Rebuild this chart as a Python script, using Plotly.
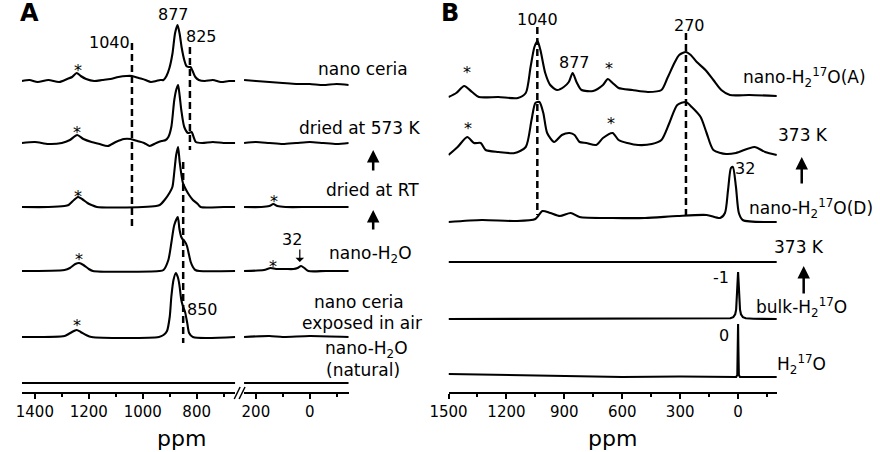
import plotly.graph_objects as go

W, H = 880, 452
FONT = "DejaVu Sans"

# ---------------- Panel A data: (ppm, intensity) ----------------
a_ceria_left = [(1448, 0), (1420, 1), (1390, -1), (1350, 1), (1310, -1), (1280, 2), (1262, 4), (1245, 8),
                (1230, 5), (1210, 2), (1180, 0), (1150, 1), (1120, 2), (1090, 4), (1060, 5), (1040, 5),
                (1015, 3), (990, 1), (970, -1), (950, 0), (935, 1), (923, 1), (912, 5), (901, 13),
                (890, 27), (880, 48), (871, 56), (863, 47), (856, 34), (846, 21), (838, 15), (830, 14),
                (823, 14), (815, 10), (805, 4), (792, 1), (770, 0), (740, 1), (710, -1), (680, 0), (657, 0)]
a_ceria_right = [(244, 1), (200, 0), (150, -1), (100, -2), (50, -3), (0, -3), (-50, -4), (-100, -3), (-145, -4)]

a_573_left = [(1448, 0), (1400, 1), (1350, -1), (1300, 0), (1270, 3), (1243, 8), (1220, 4), (1190, 1),
              (1160, -1), (1130, -3), (1100, 1), (1070, 4), (1045, 4), (1020, 2), (995, 0), (974, -3),
              (950, 0), (930, 2), (915, 3), (905, 6), (894, 16), (883, 43), (875, 54), (869, 58),
              (863, 47), (857, 33), (846, 16), (832, 10), (819, 11), (810, 5), (803, 1), (780, 0),
              (740, 1), (700, 0), (657, 0)]
a_573_right = [(244, 0), (200, 1), (150, 0), (100, -1), (50, 0), (0, 1), (-50, 0), (-100, -1), (-145, 0)]

a_rt_left = [(1448, 0), (1350, 0), (1290, 1), (1275, 2), (1255, 7), (1240, 10), (1225, 8), (1205, 4),
             (1190, 2), (1170, 0), (1000, 0), (950, 1), (937, 2), (919, 7), (901, 14), (890, 20),
             (883, 35), (876, 52), (869, 60), (863, 45), (851, 24), (839, 17), (828, 12), (814, 7),
             (796, 3), (785, 0), (700, 0), (657, 0)]
a_rt_right = [(244, 0), (180, 0), (150, 1), (135, 3), (120, 1), (90, 0), (0, 0), (-145, 0)]

a_h2o_left = [(1448, 0), (1290, 1), (1270, 3), (1250, 7), (1236, 8), (1220, 6), (1200, 2), (1185, 0),
              (940, 0), (923, 1), (905, 11), (894, 28), (883, 46), (870, 54), (864, 42), (857, 34),
              (850, 31), (843, 29), (836, 25), (829, 17), (822, 9), (814, 4), (805, 1), (790, 0), (657, 0)]
a_h2o_right = [(244, 0), (170, 1), (145, 3), (125, 2), (90, 2), (60, 2), (45, 3), (32, 5), (20, 3),
               (5, 0), (-60, 0), (-145, 0)]

a_air_left = [(1448, 0), (1290, 1), (1275, 3), (1255, 6), (1245, 7), (1230, 5), (1210, 2), (1190, 0),
              (940, 0), (923, 2), (910, 6), (900, 20), (894, 40), (886, 57), (877, 64), (870, 60),
              (864, 52), (857, 37), (850, 30), (843, 25), (835, 14), (828, 4), (814, 0), (657, 0)]
a_air_right = [(244, 0), (150, 1), (100, 0), (0, 1), (-145, 0)]

a_nat_left = [(1448, 0), (657, 0)]
a_nat_right = [(244, 0), (-145, 0)]

# ---------------- Panel B data ----------------
b_a = [(1500, 0), (1460, 4), (1419, 11), (1378, 5), (1343, 0), (1242, 0), (1141, -1), (1100, 4),
       (1075, 30), (1055, 50), (1039, 56), (1024, 47), (999, 24), (973, 12), (938, 7), (903, 10),
       (877, 15), (857, 24), (837, 15), (811, 7), (751, 6), (700, 12), (675, 18), (650, 14), (619, 9),
       (548, 7), (467, 5), (397, 7), (366, 19), (330, 34), (305, 42), (270, 45), (245, 42), (214, 35),
       (169, 27), (128, 17), (87, 7), (42, 2), (-59, 2), (-200, 1)]
b_373a = [(1500, 0), (1453, 8), (1403, 18), (1368, 12), (1333, 12), (1308, 5), (1242, 3), (1157, 2),
          (1100, 8), (1070, 35), (1050, 52), (1029, 53), (1009, 42), (989, 22), (953, 13), (913, 20),
          (872, 22), (847, 20), (821, 13), (786, 12), (735, 10), (700, 17), (650, 22), (619, 15),
          (573, 12), (518, 10), (447, 11), (397, 15), (356, 32), (315, 50), (270, 53), (240, 48),
          (194, 38), (163, 22), (128, 5), (62, 1), (11, 2), (-85, 8), (-140, 3), (-200, 0)]
b_d = [(1500, 0), (1327, 2), (1157, 1), (1050, 3), (1014, 11), (973, 9), (923, 6), (867, 9), (821, 5),
       (650, 4), (482, 4), (315, 6), (163, 7), (93, 4), (68, 9), (52, 32), (37, 54), (27, 55), (11, 35),
       (-4, 9), (-24, 2), (-200, 0)]
b_373b = [(1500, 0), (-200, 0)]
b_bulk = [(1500, 0), (200, 0), (80, 0.2), (40, 0.7), (25, 1.8), (15, 4.7), (10, 9.4), (5, 23.5),
          (2.5, 37.6), (0, 47), (-2.5, 37.6), (-5, 23.5), (-10, 9.4), (-15, 4.7), (-25, 1.8),
          (-40, 0.7), (-80, 0.2), (-200, 0)]
b_water = [(1500, 3), (1200, 2), (900, 1), (600, 0), (300, 0.5), (10, 0), (4, 2), (1.5, 30), (0, 53),
           (-1.5, 30), (-4, 2), (-10, 0), (-200, 0)]

# tick values
a_left_ticks = [1400, 1200, 1000, 800]
a_right_ticks = [200, 0]
b_ticks = [1500, 1200, 900, 600, 300, 0]

# ---------------- layout helpers (pixel positions) ----------------
AXIS_Y = 393


def py(p):
    return H - p


fig = go.Figure()


def add_spec(data, base, xaxis, smooth=True):
    xs = [d[0] for d in data]
    ys = [py(base) + d[1] for d in data]
    line = dict(color="black", width=2.1)
    if smooth:
        line.update(shape="spline", smoothing=0.7)
    fig.add_trace(go.Scatter(x=xs, y=ys, mode="lines", line=line, xaxis=xaxis, yaxis="y",
                             hoverinfo="skip", showlegend=False))


a_bases = [81, 143, 207, 271, 337, 383]
for (l, r), b in zip([(a_ceria_left, a_ceria_right), (a_573_left, a_573_right), (a_rt_left, a_rt_right),
                      (a_h2o_left, a_h2o_right), (a_air_left, a_air_right), (a_nat_left, a_nat_right)], a_bases):
    add_spec(l, b, "x")
    add_spec(r, b, "x2")

b_bases = [97, 155, 222, 262, 319, 377]
for d, b, sm in zip([b_a, b_373a, b_d, b_373b, b_bulk, b_water], b_bases, [True, True, True, True, False, False]):
    add_spec(d, b, "x3", sm)

ann = []
LBL = 17


def txt(x, y, s, size=16, xanchor="center", bold=False):
    ann.append(dict(x=x / W, y=1 - y / H, xref="paper", yref="paper", text=("<b>%s</b>" % s) if bold else s,
                    showarrow=False, xanchor=xanchor, yanchor="middle",
                    font=dict(family=FONT, size=size, color="black")))


def arrow(x, yhead, ytail, width=2.5, head=2, size=1.0):
    ann.append(dict(x=x / W, y=1 - yhead / H, xref="paper", yref="paper", text="", showarrow=True,
                    ax=0, ay=ytail - yhead, axref="pixel", ayref="pixel", arrowhead=head,
                    arrowwidth=width, arrowsize=size, arrowcolor="black"))


# Panel letters
txt(11, 13, "A", size=24, bold=True)
txt(440, 13, "B", size=24, bold=True)

# Panel A texts
txt(158, 15, "877")
txt(92, 42, "1040")
txt(187, 36, "825")
txt(188, 309, "850")
txt(279, 239, "32")
for (x, y) in [(60, 70), (59, 132), (60, 196), (61, 259), (59, 325), (261, 201), (260, 266)]:
    txt(x, y, "*", size=16)
txt(352, 69, "nano ceria", size=LBL)
txt(348, 128, "dried at 573 K", size=LBL)
txt(361, 190, "dried at RT", size=LBL)
txt(359, 254, "nano-H<sub>2</sub>O", size=LBL)
txt(348, 302, "nano ceria", size=LBL)
txt(351, 323, "exposed in air", size=LBL)
txt(355, 349, "nano-H<sub>2</sub>O", size=LBL)
txt(352, 370, "(natural)", size=LBL)
arrow(362, 150, 172)
arrow(362, 210, 231)
arrow(287, 262, 248, width=1.2, head=1, size=1.2)
txt(166, 438, "ppm", size=22)

# Panel B texts
txt(530, 20, "1040")
txt(568, 63, "877")
txt(685, 25, "270")
txt(742, 168, "32")
txt(718, 277, "-1")
txt(721, 335, "0")
for (x, y) in [(458, 72), (603, 69), (459, 128), (605, 124)]:
    txt(x, y, "*", size=16)
txt(803, 77, "nano-H<sub>2</sub><sup>17</sup>O(A)", size=LBL)
txt(801, 135, "373 K", size=LBL)
txt(809, 208, "nano-H<sub>2</sub><sup>17</sup>O(D)", size=LBL)
txt(797, 247, "373 K", size=LBL)
txt(800, 307, "bulk-H<sub>2</sub><sup>17</sup>O", size=LBL)
txt(800, 364, "H<sub>2</sub><sup>17</sup>O", size=LBL)
arrow(800, 157, 185)
arrow(802, 266, 295)
txt(607, 438, "ppm", size=22)

# dashed reference lines
shapes = []


def dash(xref, xv, y0, y1):
    shapes.append(dict(type="line", xref=xref, yref="y", x0=xv, x1=xv, y0=py(y0), y1=py(y1),
                       line=dict(color="black", width=2.5, dash="7px,4px")))


dash("x", 1040, 43, 229)
dash("x", 825, 47, 150)
dash("x", 850, 162, 343)
dash("x3", 1040, 27, 215)
dash("x3", 270, 33, 215)

# axis break marks
for x0 in (220, 225):
    shapes.append(dict(type="line", xref="paper", yref="paper", x0=x0 / W, x1=(x0 + 6) / W,
                       y0=1 - 399 / H, y1=1 - 387 / H, line=dict(color="black", width=1.5)))

pos = 1 - AXIS_Y / H
common = dict(showline=True, linecolor="black", linewidth=2, ticks="outside", ticklen=5, tickwidth=2,
              tickcolor="black", showgrid=False, zeroline=False, anchor="free", position=pos,
              tickfont=dict(family=FONT, size=15, color="black"), fixedrange=True)

fig.update_layout(
    width=W, height=H, autosize=False,
    margin=dict(l=0, r=0, t=0, b=0),
    paper_bgcolor="white", plot_bgcolor="white",
    showlegend=False,
    yaxis=dict(range=[0, H], domain=[0, 1], visible=False, fixedrange=True),
    xaxis=dict(domain=[3 / W, 221 / W], range=[1448, 657], tickvals=a_left_ticks,
               minor=dict(dtick=100, tick0=0, ticks="outside", ticklen=3, tickwidth=1.5, tickcolor="black"),
               **common),
    xaxis2=dict(domain=[230 / W, 337 / W], range=[244, -145], tickvals=a_right_ticks,
                minor=dict(dtick=100, tick0=0, ticks="outside", ticklen=3, tickwidth=1.5, tickcolor="black"),
                **common),
    xaxis3=dict(domain=[439 / W, 775 / W], range=[1500, -203], tickvals=b_ticks,
                minor=dict(dtick=150, tick0=0, ticks="outside", ticklen=3, tickwidth=1.5, tickcolor="black"),
                **common),
    annotations=ann,
    shapes=shapes,
)

fig.write_html("out.html")
